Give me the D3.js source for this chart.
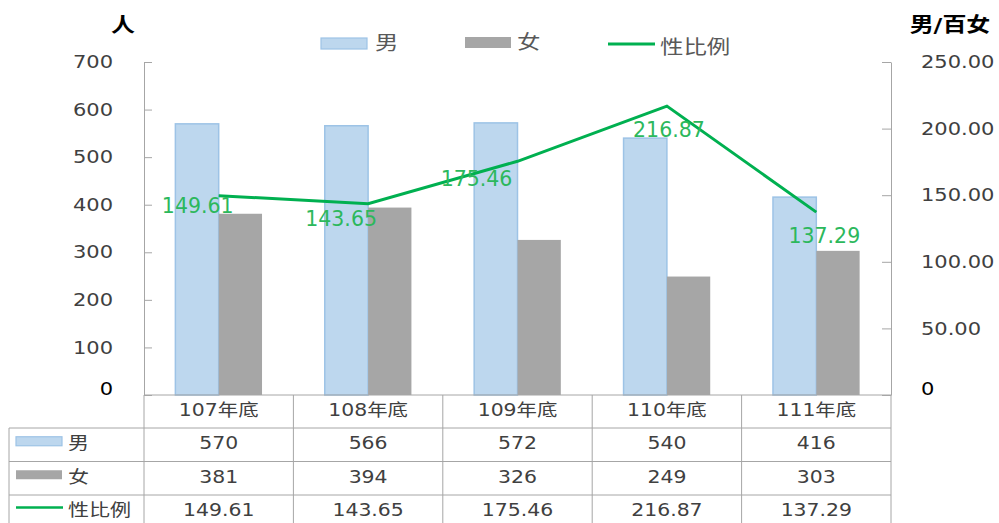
<!DOCTYPE html>
<html><head><meta charset="utf-8">
<script src="https://cdn.jsdelivr.net/npm/d3@7"></script>
<style>html,body{margin:0;padding:0;background:#fff;}svg{display:block;}</style>
</head><body>
<svg id="chart" width="999" height="523"></svg>
<script>
// ---- data ----
const categories = ["107年底", "108年底", "109年底", "110年底", "111年底"];
const maleValues = [570, 566, 572, 540, 416];
const femaleValues = [381, 394, 326, 249, 303];
const ratioValues = [149.61, 143.65, 175.46, 216.87, 137.29];
const seriesNames = ["男", "女", "性比例"];
const leftTicks = [0, 100, 200, 300, 400, 500, 600, 700];
const rightTicks = [0, 50, 100, 150, 200, 250];
const leftTitle = "人";
const rightTitle = "男/百女";

// ---- styles / layout ----
const FONT = "'DejaVu Sans','Noto Sans CJK TC',sans-serif";
const SX = 1.2; // horizontal stretch of text as in reference
const C = {male:"#bdd7ee", maleStroke:"#9dc3e6", female:"#a6a6a6", line:"#00b050", label:"#2cb85c", grid:"#a6a6a6", text:"#404040", legendText:"#595959"};
const plot = {left:144, right:891, top:62, bottom:395};
const rowTops = [395, 428, 461.5, 495, 528];
const tableLeft = 9;
const labelOffsets = [[-21,10],[-27,15],[-41,18],[2,24],[8,24]];

const svg = d3.select("#chart");

function txt(parent, x, y, s, o={}) {
  const g = parent.append("g").attr("transform", `translate(${x},${y}) scale(${o.sx ?? SX},1)`);
  return g.append("text").text(s)
    .attr("text-anchor", o.anchor || "middle")
    .attr("dominant-baseline", "central")
    .attr("font-family", FONT)
    .attr("font-size", o.size || 16)
    .attr("font-weight", o.weight || "normal")
    .attr("fill", o.fill || C.text);
}

const x = d3.scaleBand().domain(categories).range([plot.left, plot.right]).padding(0);
const yL = d3.scaleLinear().domain([0, 700]).range([plot.bottom, plot.top]);
const yR = d3.scaleLinear().domain([0, 250]).range([plot.bottom, plot.top]);
const bw = x.bandwidth() * 0.29;
const cx = c => x(c) + x.bandwidth() / 2;

// bars
svg.append("g").selectAll("rect").data(categories).join("rect")
  .attr("x", c => cx(c) - bw).attr("width", bw)
  .attr("y", (c,i) => yL(maleValues[i])).attr("height", (c,i) => plot.bottom - yL(maleValues[i]))
  .attr("fill", C.male).attr("stroke", C.maleStroke).attr("stroke-width", 1.5);
svg.append("g").selectAll("rect").data(categories).join("rect")
  .attr("x", c => cx(c)).attr("width", bw)
  .attr("y", (c,i) => yL(femaleValues[i])).attr("height", (c,i) => plot.bottom - yL(femaleValues[i]))
  .attr("fill", C.female);

// axes
const axL = svg.append("g").attr("transform", `translate(${plot.left},0)`)
  .call(d3.axisLeft(yL).tickValues(leftTicks).tickSizeInner(-8).tickSizeOuter(0).tickFormat(d3.format("d")));
axL.selectAll("line,path").attr("stroke", C.grid);
axL.selectAll("text").attr("x", -31 / SX).attr("transform", `scale(${SX},1)`)
  .attr("font-family", FONT).attr("font-size", 17.5).attr("fill", d => d === 0 ? "#000" : C.text)
  .attr("dy", d => d === 0 ? "-0.02em" : "0.32em");

const axR = svg.append("g").attr("transform", `translate(${plot.right},0)`)
  .call(d3.axisRight(yR).tickValues(rightTicks).tickSizeInner(-9).tickSizeOuter(0).tickFormat(d => d === 0 ? "0" : d.toFixed(2)));
axR.selectAll("line,path").attr("stroke", C.grid);
axR.selectAll("text").attr("x", 30 / SX).attr("transform", `scale(${SX},1)`)
  .attr("font-family", FONT).attr("font-size", 17.5).attr("fill", d => d === 0 ? "#000" : C.text)
  .attr("dy", d => d === 0 ? "-0.02em" : "0.32em");

// line
svg.append("path").datum(ratioValues)
  .attr("d", d3.line().x((v,i) => cx(categories[i])).y(v => yR(v)))
  .attr("fill", "none").attr("stroke", C.line).attr("stroke-width", 3);
ratioValues.forEach((v,i) => {
  txt(svg, cx(categories[i]) + labelOffsets[i][0], yR(v) + labelOffsets[i][1], v.toFixed(2), {size:20.5, sx:1, fill:C.label});
});

// axis titles
txt(svg, 123, 25, leftTitle, {size:20, weight:"bold", fill:"#000"});
txt(svg, 950, 25, rightTitle, {size:20, weight:"bold", fill:"#000"});

// top legend
const lg = svg.append("g");
lg.append("rect").attr("x",321).attr("y",38).attr("width",46).attr("height",11).attr("fill",C.male).attr("stroke",C.maleStroke).attr("stroke-width",1.2);
txt(lg, 375, 43, seriesNames[0], {size:19.5, anchor:"start", fill:C.legendText});
lg.append("rect").attr("x",465).attr("y",37).attr("width",46).attr("height",11).attr("fill",C.female);
txt(lg, 517, 42, seriesNames[1], {size:19.5, anchor:"start", fill:C.legendText});
lg.append("line").attr("x1",608).attr("x2",655).attr("y1",44).attr("y2",44).attr("stroke",C.line).attr("stroke-width",3);
txt(lg, 660, 47, seriesNames[2], {size:19.5, anchor:"start", fill:C.legendText});

// data table
const tg = svg.append("g");
const gridLine = (x1,y1,x2,y2) => tg.append("line").attr("x1",x1).attr("y1",y1).attr("x2",x2).attr("y2",y2).attr("stroke",C.grid).attr("stroke-width",1);
gridLine(plot.left, rowTops[0], plot.right, rowTops[0]);
rowTops.slice(1).forEach(y => gridLine(tableLeft, y, plot.right, y));
gridLine(tableLeft, rowTops[1], tableLeft, rowTops[4]);
[plot.left, ...categories.map(c => x(c) + x.bandwidth())].forEach(xx => gridLine(xx, rowTops[0], xx, rowTops[4]));

const rowCenter = i => (rowTops[i] + rowTops[i+1]) / 2 - 1.5;
categories.forEach((c,i) => txt(tg, cx(c), rowCenter(0), c, {size:17}));
[maleValues, femaleValues, ratioValues].forEach((arr, r) => {
  arr.forEach((v,i) => txt(tg, cx(categories[i]), rowCenter(r+1), r === 2 ? v.toFixed(2) : String(v), {size:17}));
});
// table keys
tg.append("rect").attr("x",16).attr("y",rowCenter(1)-6.5).attr("width",46).attr("height",9).attr("fill",C.male).attr("stroke",C.maleStroke).attr("stroke-width",1.2);
tg.append("rect").attr("x",16).attr("y",rowCenter(2)-6.5).attr("width",46).attr("height",9).attr("fill",C.female);
tg.append("line").attr("x1",16).attr("x2",63).attr("y1",rowCenter(3)-2.5).attr("y2",rowCenter(3)-2.5).attr("stroke",C.line).attr("stroke-width",2.5);
seriesNames.forEach((s,r) => txt(tg, 68, rowCenter(r+1), s, {size:17.5, anchor:"start"}));
</script>
</body></html>
